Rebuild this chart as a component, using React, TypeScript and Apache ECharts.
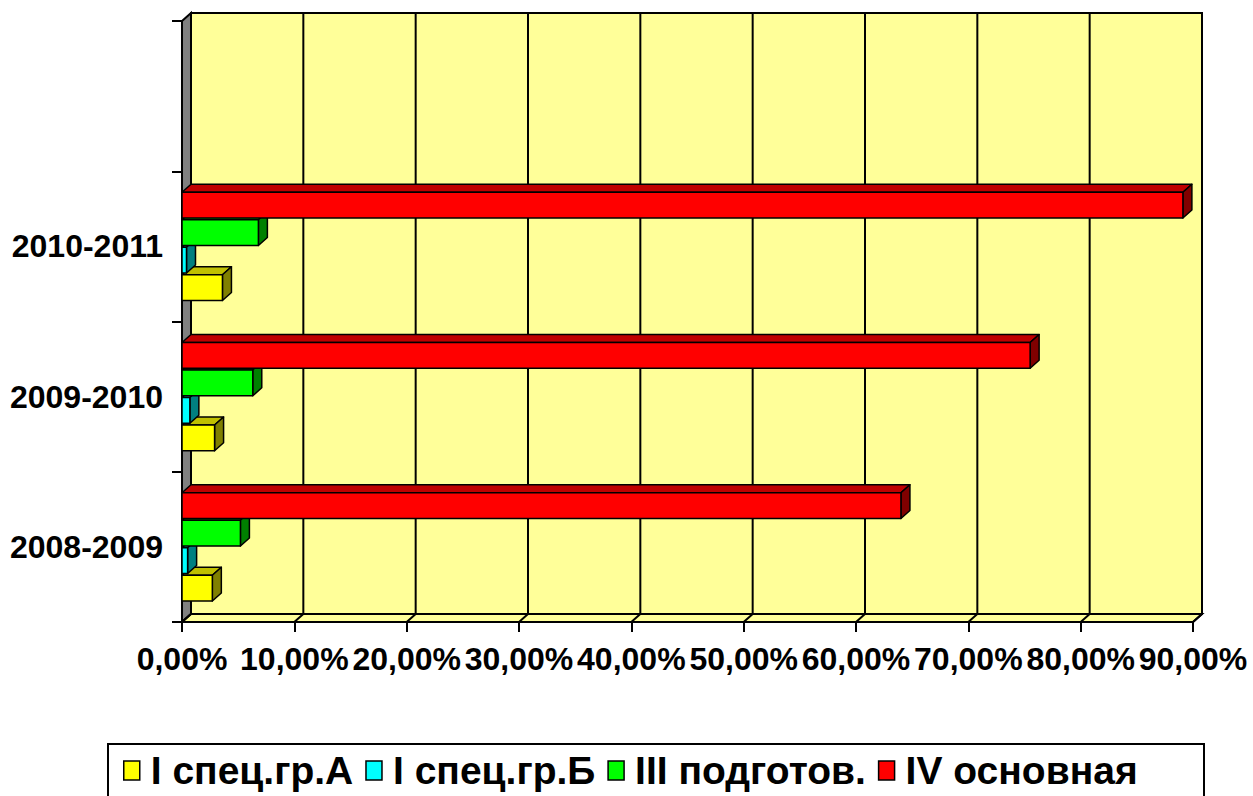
import React, { useEffect, useRef } from "react";
import * as echarts from "echarts";

const categories = ["2008-2009", "2009-2010", "2010-2011", ""];
const seriesNames = ["I спец.гр.А", "I спец.гр.Б", "III подготов.", "IV основная"];
const groupA = [2.7, 2.9, 3.6];
const groupB = [0.5, 0.7, 0.4];
const groupIII = [5.2, 6.3, 6.8];
const groupIV = [64.0, 75.5, 89.1];
const xTicks = [0, 10, 20, 30, 40, 50, 60, 70, 80, 90];

const FONT = "'Liberation Sans', Arial, sans-serif";
const DX = 9;
const DY = 8;

const palette = [
  { front: "#FFFF00", top: "#C0C000", side: "#808000" },
  { front: "#00FFFF", top: "#00C0C0", side: "#008080" },
  { front: "#00FF00", top: "#00C000", side: "#008000" },
  { front: "#FF0000", top: "#C00000", side: "#800000" },
];
const slotOffset = [1.5, 0.5, -0.5, -1.5];

function makeBarSeries(name: string, values: number[], idx: number) {
  const col = palette[idx];
  return {
    type: "custom",
    name,
    coordinateSystem: "cartesian2d",
    itemStyle: { color: col.front, borderColor: "#000", borderWidth: 1.5 },
    encode: { x: 0, y: 1 },
    z: 5,
    data: values.map((v, i) => [v, i]),
    renderItem: (params: any, api: any) => {
      const v = api.value(0);
      const ci = api.value(1);
      const p0 = api.coord([0, ci]);
      const p1 = api.coord([v, ci]);
      const band = api.size([0, 1])[1];
      const pitch = band * 0.183;
      const h = band * 0.172;
      const cy = p0[1] + slotOffset[idx] * pitch;
      const yt = cy - h / 2;
      const yb = cy + h / 2;
      const x0 = p0[0];
      const x1 = p1[0];
      const st = { stroke: "#000", lineWidth: 1.5, lineJoin: "round" };
      return {
        type: "group",
        children: [
          {
            type: "polygon",
            shape: { points: [[x0, yt], [x0 + DX, yt - DY], [x1 + DX, yt - DY], [x1, yt]] },
            style: { fill: col.top, ...st },
          },
          {
            type: "polygon",
            shape: { points: [[x1, yt], [x1 + DX, yt - DY], [x1 + DX, yb - DY], [x1, yb]] },
            style: { fill: col.side, ...st },
          },
          {
            type: "rect",
            shape: { x: x0, y: yt, width: x1 - x0, height: h },
            style: { fill: col.front, ...st },
          },
        ],
      };
    },
  };
}

export default function App() {
  const ref = useRef<HTMLDivElement>(null);
  useEffect(() => {
    const chart = echarts.init(ref.current!, null, { renderer: "svg" });
    const wallSeries = {
      type: "custom",
      name: "walls",
      coordinateSystem: "cartesian2d",
      silent: true,
      z: 1,
      data: [[0, 0]],
      renderItem: (params: any, api: any) => {
        const cs = params.coordSys;
        const L = cs.x;
        const T = cs.y;
        const R = cs.x + cs.width;
        const B = cs.y + cs.height;
        const children: any[] = [];
        children.push({
          type: "rect",
          shape: { x: L + DX, y: T - DY, width: R - L, height: B - T },
          style: { fill: "#FFFF99", stroke: "#000", lineWidth: 2 },
        });
        children.push({
          type: "polygon",
          shape: { points: [[L, T], [L + DX, T - DY], [L + DX, B - DY], [L, B]] },
          style: { fill: "#808080", stroke: "#000", lineWidth: 2 },
        });
        children.push({
          type: "polygon",
          shape: { points: [[L, B], [L + DX, B - DY], [R + DX, B - DY], [R, B]] },
          style: { fill: "#FFFF99", stroke: "#000", lineWidth: 2 },
        });
        xTicks.forEach((t) => {
          const x = api.coord([t, 0])[0];
          if (t > 0) {
            children.push({
              type: "line",
              shape: { x1: x + DX, y1: T - DY, x2: x + DX, y2: B - DY },
              style: { stroke: "#000", lineWidth: 2 },
            });
          }
          children.push({
            type: "line",
            shape: { x1: x, y1: B, x2: x + DX, y2: B - DY },
            style: { stroke: "#000", lineWidth: 2 },
          });
        });
        return { type: "group", children };
      },
    };
    const option: any = {
      animation: false,
      backgroundColor: "#FFFFFF",
      grid: { left: 182, top: 21, right: 60, bottom: 174, containLabel: false },
      xAxis: {
        type: "value",
        min: 0,
        max: 90,
        interval: 10,
        axisLine: { show: true, lineStyle: { color: "#000", width: 2 } },
        axisTick: { show: true, inside: false, length: 10, lineStyle: { color: "#000", width: 2 } },
        splitLine: { show: false },
        axisLabel: {
          margin: 21,
          color: "#000",
          fontSize: 32,
          fontWeight: "bold",
          fontFamily: FONT,
          hideOverlap: false,
          formatter: (v: number) => v.toFixed(2).replace(".", ",") + "%",
        },
      },
      yAxis: {
        type: "category",
        data: categories,
        axisLine: { show: true, lineStyle: { color: "#000", width: 2 } },
        axisTick: { show: true, inside: false, length: 10, lineStyle: { color: "#000", width: 2 } },
        splitLine: { show: false },
        axisLabel: {
          margin: 19,
          color: "#000",
          fontSize: 32,
          fontWeight: "bold",
          fontFamily: FONT,
        },
      },
      legend: {
        data: seriesNames,
        left: 118,
        top: 746,
        icon: "rect",
        itemWidth: 16,
        itemHeight: 19,
        itemGap: 12,
        itemStyle: { borderColor: "#000", borderWidth: 1.5 },
        textStyle: { color: "#000", fontSize: 39, fontWeight: "bold", fontFamily: FONT, padding: [0, 0, 0, 6] },
        z: 10,
      },
      graphic: [
        {
          type: "rect",
          left: 107,
          top: 743,
          shape: { width: 1096, height: 70 },
          style: { fill: "#fff", stroke: "#000", lineWidth: 2 },
          z: 1,
        },
      ],
      series: [
        wallSeries,
        makeBarSeries(seriesNames[0], groupA, 0),
        makeBarSeries(seriesNames[1], groupB, 1),
        makeBarSeries(seriesNames[2], groupIII, 2),
        makeBarSeries(seriesNames[3], groupIV, 3),
      ],
    };
    chart.setOption(option);
    return () => chart.dispose();
  }, []);
  return (
    <div
      ref={ref}
      style={{ position: "fixed", left: 0, top: 0, width: 1253, height: 796 }}
    />
  );
}
